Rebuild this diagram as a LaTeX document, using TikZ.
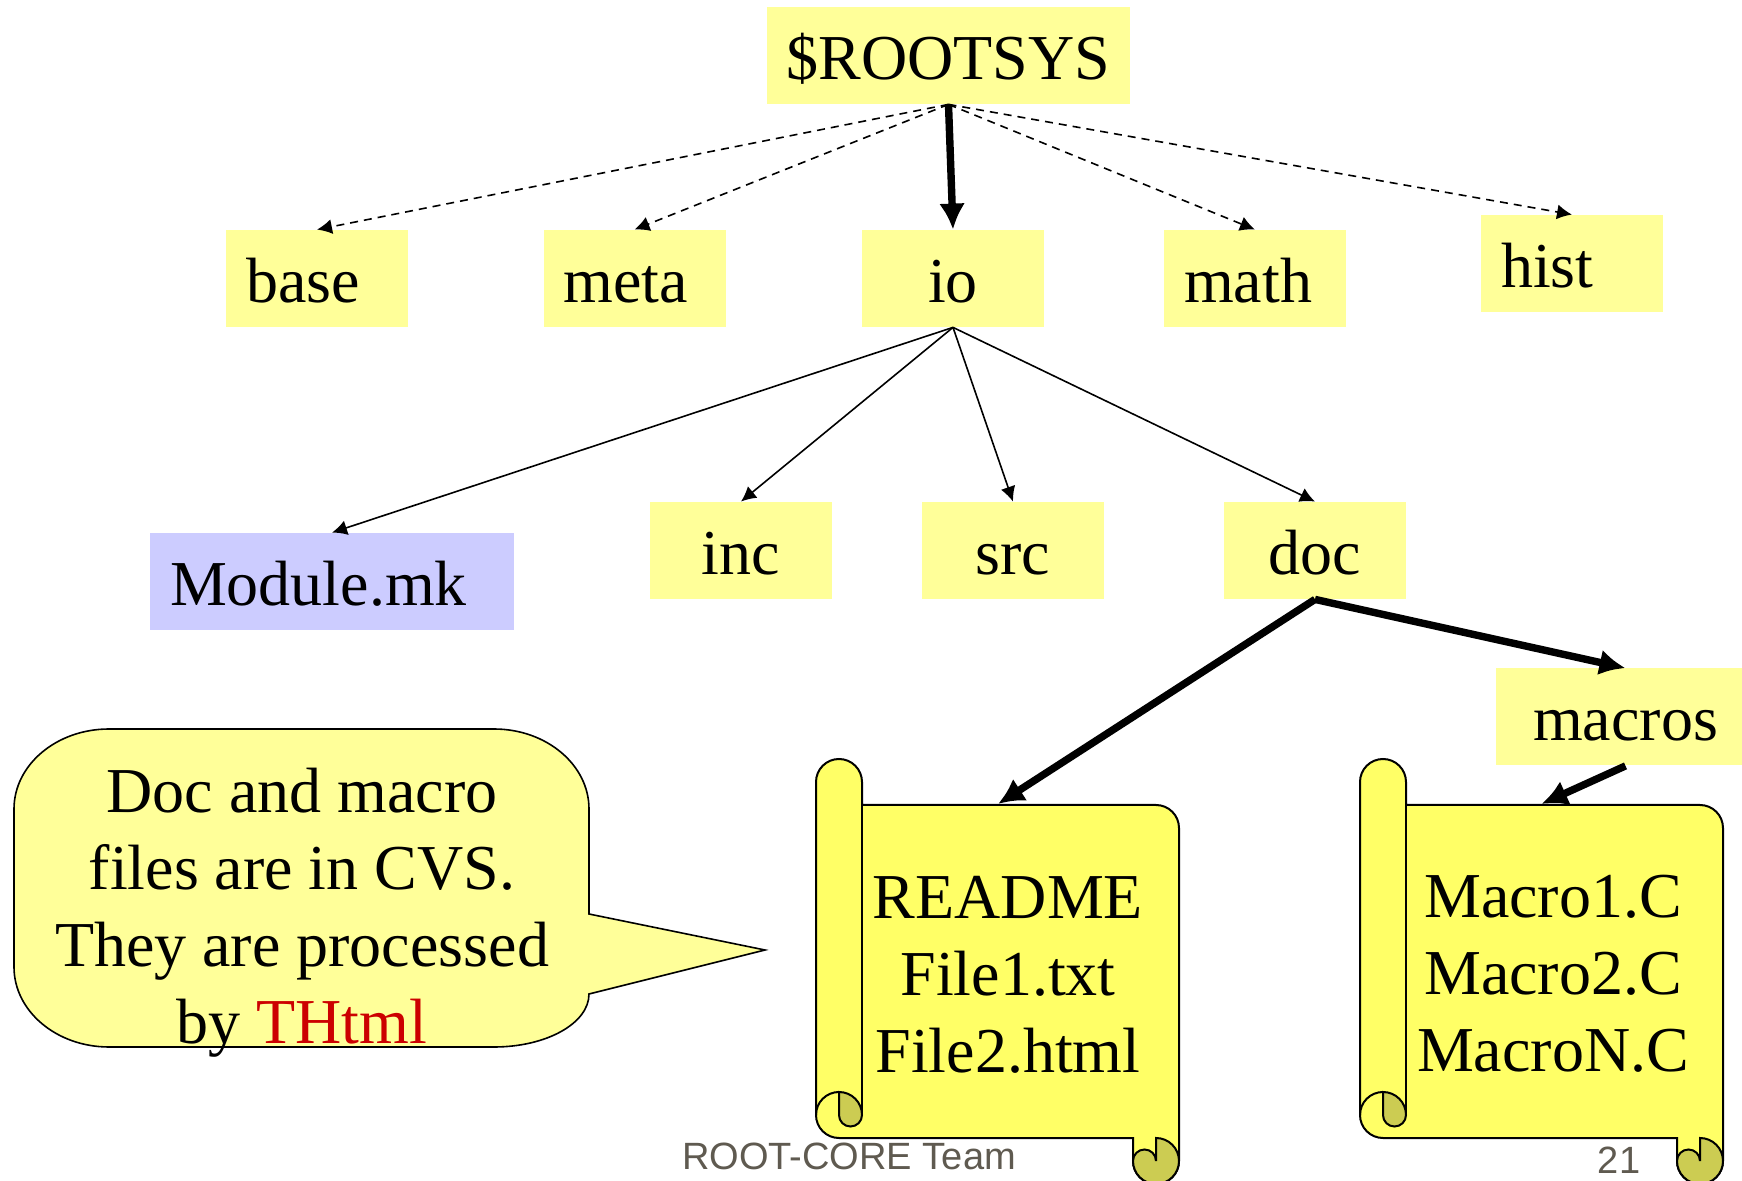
\documentclass[tikz,border=0pt]{standalone}
\usepackage{fontspec}
\setmainfont{Liberation Serif}
\setsansfont{Liberation Sans}
\usetikzlibrary{arrows.meta,positioning}

\definecolor{boxyellow}{HTML}{FFFF99}
\definecolor{scrollyellow}{HTML}{FFFF66}
\definecolor{curlyellow}{HTML}{CCCC52}
\definecolor{boxblue}{HTML}{CCCCFF}
\definecolor{footgrey}{HTML}{5F5A50}
\definecolor{thtmlred}{HTML}{CC0000}

\tikzset{
        bigtext/.style={font=\fontsize{32}{38.5}\selectfont},
        dirbox/.style={bigtext, fill=boxyellow, inner sep=0pt, minimum width=91pt,
                minimum height=48.5pt, text height=26pt, text depth=2pt},
        leftbox/.style={dirbox, inner xsep=10pt, text width=71pt, align=left},
        thin arrow/.style={-{Latex[length=7.5pt, width=7.5pt]}, line width=0.8pt},
        dash arrow/.style={thin arrow, dash pattern=on 4pt off 3pt},
        thick arrow/.style={-{Latex[length=13pt, width=13pt]}, line width=3.7pt},
        scroll line/.style={draw=black, line width=1pt},
        footer/.style={font=\fontsize{19}{22}\selectfont\sffamily, text=footgrey, inner sep=0pt}
}

\newcommand{\drawscroll}[2]{
        \begin{scope}[shift={(#1, #2)}]
                \filldraw[scroll line, fill=scrollyellow] (46, -46) -- (340, -46)
                        arc [start angle=90, end angle=0, radius=23] -- (363, -402)
                        arc [start angle=0, end angle=-180, radius=23] -- (317, -379)
                        -- (23, -379) arc [start angle=270, end angle=180, radius=23]
                        -- (0, -23) arc [start angle=180, end angle=0, radius=23] -- cycle;
                \draw[scroll line] (46, -23) -- (46, -356);
                \draw[scroll line] (0, -356) arc [start angle=180, end angle=90, radius=23];
                \filldraw[scroll line, fill=curlyellow] (23, -333)
                        arc [start angle=90, end angle=0, radius=23]
                        arc [start angle=0, end angle=-180, radius=11.5] -- cycle;
                \filldraw[scroll line, fill=curlyellow] (340, -379)
                        arc [start angle=90, end angle=-180, radius=23]
                        arc [start angle=180, end angle=0, radius=11.5] -- cycle;
        \end{scope}
}

\begin{document}
\begin{tikzpicture}[x=0.5pt, y=0.5pt]
        \clip (0, 0) rectangle (1742, -1181);
        \fill[white] (0, 0) rectangle (1742, -1181);

        \node[dirbox, minimum width=181.5pt] (rootsys) at (948.5, -55.5) {\$ROOTSYS};
        \node[leftbox] (base) at (317, -278.5) {base};
        \node[leftbox] (meta) at (634.5, -278.5) {meta};
        \node[dirbox] (io) at (953, -278.5) {io};
        \node[leftbox] (math) at (1255, -278.5) {math};
        \node[leftbox] (hist) at (1572, -263.5) {hist};
        \node[leftbox, fill=boxblue, text width=162pt] (module) at (332, -581.5) {Module.mk};
        \node[dirbox] (inc) at (741, -550.5) {inc};
        \node[dirbox] (src) at (1013, -550.5) {src};
        \node[dirbox] (doc) at (1315, -550.5) {doc};
        \node[dirbox, minimum width=130pt] (macros) at (1625.5, -717) {macros};

        \drawscroll{816}{-759}
        \drawscroll{1360}{-759}
        \coordinate (doctop) at (998, -804);
        \coordinate (macrotop) at (1541.5, -804);
        \node[bigtext, align=center, inner sep=0pt] (docfiles) at (1008, -974.5) {README\\File1.txt\\File2.html};
        \node[bigtext, align=center, inner sep=0pt] (macrofiles) at (1553, -974) {Macro1.C\\Macro2.C\\MacroN.C};

        \filldraw[draw=black, line width=0.8pt, fill=boxyellow] (109, -729) -- (494, -729)
                arc [start angle=90, end angle=0, x radius=95, y radius=80] -- (589, -914)
                -- (765, -950) -- (589, -994)
                arc [start angle=0, end angle=-90, x radius=95, y radius=53] -- (109, -1047)
                arc [start angle=270, end angle=180, x radius=95, y radius=80] -- (14, -809)
                arc [start angle=180, end angle=90, x radius=95, y radius=80] -- cycle;
        \node[bigtext, align=center, inner sep=0pt] (note) at (302, -913)
                {Doc and macro\\files are in CVS.\\They are processed\\by \textcolor{thtmlred}{THtml}};

        \draw[dash arrow] (rootsys.south) -- (base.north);
        \draw[dash arrow] (rootsys.south) -- (meta.north);
        \draw[dash arrow] (rootsys.south) -- (math.north);
        \draw[dash arrow] (rootsys.south) -- (hist.north);
        \draw[thick arrow] (rootsys.south) -- (io.north);
        \draw[thin arrow] (io.south) -- (module.north);
        \draw[thin arrow] (io.south) -- (inc.north);
        \draw[thin arrow] (io.south) -- (src.north);
        \draw[thin arrow] (io.south) -- (doc.north);
        \draw[thick arrow] (doc.south) -- (doctop);
        \draw[thick arrow] (doc.south) -- (macros.north);
        \draw[thick arrow] (macros.south) -- (macrotop);

        \node[footer, anchor=base] (team) at (849, -1169) {ROOT-CORE Team};
        \node[footer, anchor=base] (pagenum) at (1619, -1173) {21};
\end{tikzpicture}
\end{document}
